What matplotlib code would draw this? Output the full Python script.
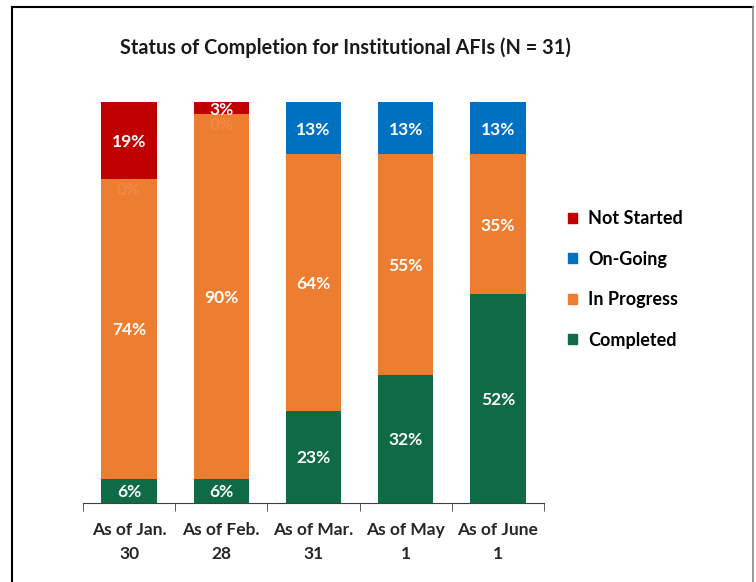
import matplotlib.pyplot as plt
from matplotlib.patches import Patch
from matplotlib.lines import Line2D
import numpy as np

plt.rcParams['font.family'] = ['Lato', 'DejaVu Sans']

# data (percent labels as shown on the chart)
categories = ['As of Jan.\n30', 'As of Feb.\n28', 'As of Mar.\n31', 'As of May\n1', 'As of June\n1']
completed = [6, 6, 23, 32, 52]
in_progress = [74, 90, 64, 55, 35]
on_going = [0, 0, 13, 13, 13]
not_started = [19, 3, 0, 0, 0]

series = [('Completed', completed, '#0E6B45'),
          ('In Progress', in_progress, '#ED7D31'),
          ('On-Going', on_going, '#0070C0'),
          ('Not Started', not_started, '#C00000')]

fig = plt.figure(figsize=(7.56, 5.82), dpi=100)
ax = fig.add_axes([83/756, 1-503/582, (544-83)/756, (503-102)/582])

x = np.arange(len(categories))
# 100% stacked like excel
totals = np.array(completed) + np.array(in_progress) + np.array(on_going) + np.array(not_started)
bottom = np.zeros(len(categories))
for name, vals, col in series:
    h = np.array(vals) / totals * 100
    ax.bar(x, h, 0.6, bottom=bottom, color=col, label=name)
    for i in range(len(x)):
        if vals[i] == 0:
            if name == 'On-Going' and not_started[i] > 0:
                # faint zero label sitting just under the top of the orange part
                ax.text(x[i], bottom[i] - 2.3, '0%', ha='center', va='center_baseline',
                        color='white', alpha=0.1, fontsize=12.5, fontweight='bold')
            continue
        ax.text(x[i], bottom[i] + h[i] / 2, str(vals[i]) + '%', ha='center', va='center_baseline',
                color='white', fontsize=12.5, fontweight='bold')
    bottom += h

ax.set_xlim(-0.5, len(categories) - 0.5)
ax.set_ylim(0, 100)
ax.set_yticks([])
for s in ['top', 'right', 'left']:
    ax.spines[s].set_visible(False)
ax.spines['bottom'].set_color('#404040')
ax.set_xticks(x)
ax.set_xticklabels(categories, fontsize=12.5, fontweight='bold', color='#262626', linespacing=1.55)
ax.tick_params(axis='x', length=0, pad=14)
# tick marks between categories
ax.set_xticks(np.arange(len(categories) + 1) - 0.5, minor=True)
ax.tick_params(axis='x', which='minor', length=6, color='#404040')

fig.text(345/756, 1-48/582, 'Status of Completion for Institutional AFIs (N = 31)',
         ha='center', va='center', fontsize=14.3, fontweight='bold', color='#1a1a1a')

handles = [Patch(color=c) for n, v, c in series[::-1]]
labels = [n for n, v, c in series[::-1]]
fig.legend(handles, labels, loc='upper left', bbox_to_anchor=(552/756, 1-194/582),
           frameon=False, prop={'weight': 'bold', 'size': 13},
           handlelength=0.5, handleheight=0.5, handletextpad=0.6, labelspacing=1.3)

# chart border
fig.add_artist(Line2D([12/756, 12/756], [0, 1-7/582], color='black', lw=1.5))
fig.add_artist(Line2D([12/756, 753/756], [1-7/582, 1-7/582], color='black', lw=1.5))
fig.add_artist(Line2D([753/756, 753/756], [0, 1-7/582], color='#888888', lw=1.2))

fig.savefig('out.png', dpi=100)
